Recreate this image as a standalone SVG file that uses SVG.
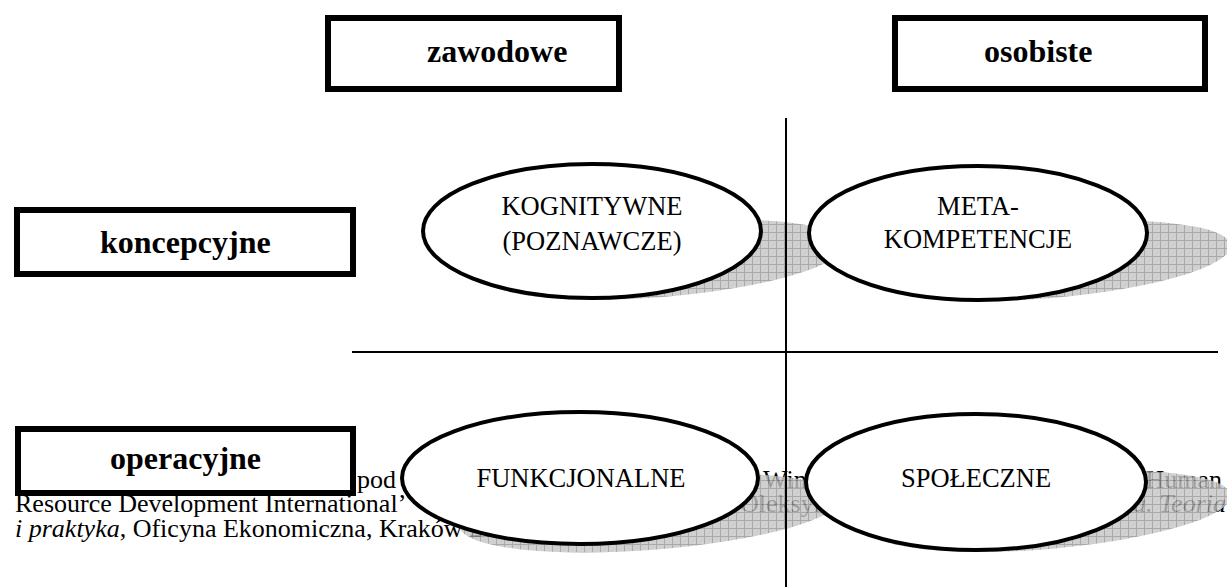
<svg xmlns="http://www.w3.org/2000/svg" width="1227" height="587" viewBox="0 0 1227 587">
<defs>
<pattern id="grid" width="8" height="8" patternUnits="userSpaceOnUse">
<rect width="8" height="8" fill="#c4c4c4"/>
<path d="M0 0.5H8M0.5 0V8" stroke="#939393" stroke-width="1" fill="none"/>
</pattern>
<clipPath id="sh1"><ellipse cx="592" cy="231" rx="169" ry="67" transform="matrix(1 0 -1 0.6 302 121)"/></clipPath>
<clipPath id="sh2"><ellipse cx="978" cy="233" rx="169" ry="67" transform="matrix(1 0 -1 0.6 304 121)"/></clipPath>
<clipPath id="sh3"><ellipse cx="580" cy="478" rx="178" ry="66" transform="matrix(1 0 -1 0.6 548 226)"/></clipPath>
<clipPath id="sh4"><ellipse cx="976" cy="482" rx="170" ry="68" transform="matrix(1 0 -1 0.6 554 222)"/></clipPath>
</defs>
<style>
.bg{font-family:"Liberation Serif","Times New Roman",serif;font-size:26px;fill:#000}
.it{font-style:italic}
.box{fill:#fff;stroke:#000;stroke-width:6}
.boxt{font-family:"Liberation Serif","Times New Roman",serif;font-size:32px;font-weight:bold;fill:#000}
.ell{fill:#fff;stroke:#000;stroke-width:4}
.et{font-family:"Liberation Serif","Times New Roman",serif;font-size:26.5px;fill:#000;text-anchor:middle}
.shadow{fill:url(#grid);opacity:0.8}
.ln{stroke:#000;stroke-width:2;fill:none}
</style>
<rect width="1227" height="587" fill="#fff"/>
<g id="footnote">
<text class="bg" x="357" y="488">pod</text>
<text class="bg" x="763" y="488">Win</text>
<text class="bg" x="1222" y="488" text-anchor="end">Human</text>
<text class="bg" x="15" y="512">Resource Development International’</text>
<text class="bg" x="740" y="512">Oleksyn,</text>
<text class="bg" x="1226" y="512" text-anchor="end"><tspan class="it">a. Teoria</tspan></text>
<text class="bg" x="15" y="537"><tspan class="it">i praktyka</tspan>, Oficyna Ekonomiczna, Kraków 2007,</text>
</g>
<g id="shadows">
<rect class="shadow" x="0" y="0" width="1227" height="587" clip-path="url(#sh1)"/>
<rect class="shadow" x="0" y="0" width="1227" height="587" clip-path="url(#sh2)"/>
<rect class="shadow" x="0" y="0" width="1227" height="587" clip-path="url(#sh3)"/>
<rect class="shadow" x="0" y="0" width="1227" height="587" clip-path="url(#sh4)"/>
</g>
<g id="connectors">
<line class="ln" x1="786" y1="118" x2="786" y2="587"/>
<line class="ln" x1="352" y1="352" x2="1218" y2="352"/>
</g>
<g id="zawodowe">
<rect class="box" x="328" y="18" width="291" height="71"/>
<text class="boxt" x="427" y="62">zawodowe</text>
</g>
<g id="osobiste">
<rect class="box" x="895" y="18" width="310" height="71"/>
<text class="boxt" x="984" y="62">osobiste</text>
</g>
<g id="koncepcyjne">
<rect class="box" x="17" y="210" width="336" height="64"/>
<text class="boxt" x="100" y="253">koncepcyjne</text>
</g>
<g id="operacyjne">
<rect class="box" x="18" y="429" width="335" height="64"/>
<text class="boxt" x="110" y="469">operacyjne</text>
</g>
<g id="kognitywne">
<ellipse class="ell" cx="592" cy="231" rx="169" ry="67"/>
<text class="et" x="592" y="215">KOGNITYWNE</text>
<text class="et" x="592" y="250">(POZNAWCZE)</text>
</g>
<g id="metakompetencje">
<ellipse class="ell" cx="978" cy="233" rx="169" ry="67"/>
<text class="et" x="978" y="215">META-</text>
<text class="et" x="978" y="248">KOMPETENCJE</text>
</g>
<g id="funkcjonalne">
<ellipse class="ell" cx="580" cy="478" rx="178" ry="66"/>
<text class="et" x="581" y="487">FUNKCJONALNE</text>
</g>
<g id="spoleczne">
<ellipse class="ell" cx="976" cy="482" rx="170" ry="68"/>
<text class="et" x="976" y="487">SPOŁECZNE</text>
</g>
</svg>
